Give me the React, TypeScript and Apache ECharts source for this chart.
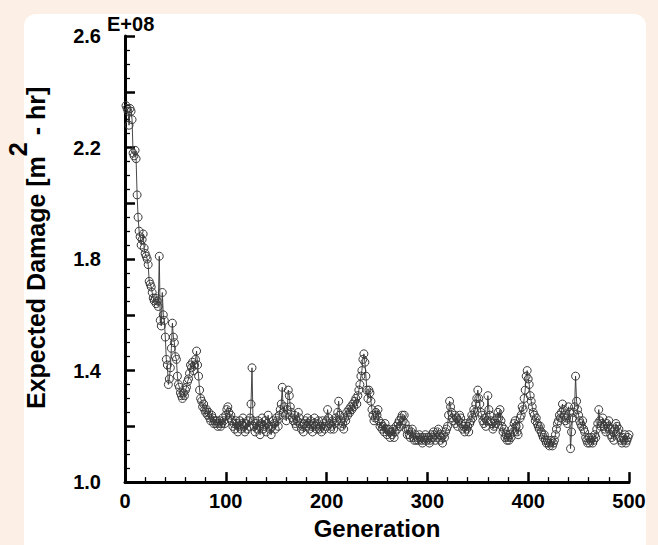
import React, { useEffect, useRef } from "react";
import * as echarts from "echarts";

// First generation plotted and step between samples
const GEN_START = 1;
const GEN_STEP = 1;

// Expected damage, in units of 1E+08 m^2-hr, one value per generation (1..500)
const damage = [
  2.35, 2.34, 2.33, 2.28, 2.34, 2.33, 2.30, 2.18, 2.17, 2.19,
  2.16, 2.03, 1.95, 1.90, 1.88, 1.85, 1.87, 1.89, 1.84, 1.82,
  1.81, 1.80, 1.78, 1.72, 1.71, 1.70, 1.68, 1.66, 1.65, 1.66,
  1.64, 1.65, 1.63, 1.81, 1.58, 1.56, 1.68, 1.60, 1.58, 1.52,
  1.44, 1.42, 1.35, 1.37, 1.41, 1.48, 1.57, 1.52, 1.50, 1.45,
  1.44, 1.38, 1.35, 1.34, 1.32, 1.31, 1.30, 1.32, 1.31, 1.33,
  1.34, 1.36, 1.37, 1.39, 1.42, 1.41, 1.43, 1.40, 1.42, 1.44,
  1.47, 1.42, 1.38, 1.33, 1.30, 1.29, 1.27, 1.28, 1.26, 1.25,
  1.26, 1.24, 1.25, 1.23, 1.22, 1.24, 1.23, 1.21, 1.22, 1.21,
  1.22, 1.20, 1.21, 1.22, 1.20, 1.21, 1.23, 1.22, 1.21, 1.24,
  1.26, 1.27, 1.25, 1.23, 1.24, 1.22, 1.20, 1.21, 1.19, 1.22,
  1.21, 1.18, 1.20, 1.22, 1.19, 1.21, 1.23, 1.20, 1.18, 1.21,
  1.19, 1.22, 1.20, 1.23, 1.28, 1.41, 1.22, 1.20, 1.18, 1.21,
  1.19, 1.22, 1.20, 1.17, 1.21, 1.23, 1.19, 1.20, 1.22, 1.18,
  1.21, 1.24, 1.20, 1.19, 1.17, 1.20, 1.22, 1.21, 1.19, 1.23,
  1.22, 1.20, 1.24, 1.26, 1.28, 1.34, 1.25, 1.27, 1.24, 1.22,
  1.26, 1.33, 1.31, 1.27, 1.25, 1.23, 1.22, 1.24, 1.21, 1.20,
  1.22, 1.25, 1.23, 1.21, 1.19, 1.20, 1.18, 1.21, 1.22, 1.20,
  1.23, 1.21, 1.19, 1.22, 1.20, 1.18, 1.21, 1.23, 1.20, 1.19,
  1.21, 1.22, 1.19, 1.20, 1.18, 1.22, 1.21, 1.19, 1.20, 1.22,
  1.26, 1.23, 1.21, 1.19, 1.20, 1.22, 1.19, 1.21, 1.23, 1.22,
  1.25, 1.29, 1.24, 1.22, 1.20, 1.21, 1.19, 1.23, 1.22, 1.25,
  1.24, 1.26, 1.25, 1.27, 1.26, 1.28, 1.27, 1.29, 1.30, 1.28,
  1.31, 1.33, 1.35, 1.38, 1.40, 1.44, 1.46, 1.43, 1.38, 1.33,
  1.30, 1.33, 1.32, 1.29, 1.26, 1.24, 1.22, 1.23, 1.25, 1.24,
  1.26, 1.22, 1.20, 1.21, 1.19, 1.20, 1.18, 1.21, 1.19, 1.17,
  1.19, 1.18, 1.16, 1.18, 1.17, 1.19, 1.16, 1.18, 1.20, 1.19,
  1.21, 1.22, 1.20, 1.23, 1.24, 1.22, 1.24, 1.21, 1.19, 1.17,
  1.19, 1.17, 1.16, 1.18, 1.19, 1.16, 1.15, 1.17, 1.15, 1.16,
  1.15, 1.17, 1.16, 1.15, 1.14, 1.16, 1.15, 1.17, 1.16, 1.15,
  1.16, 1.14, 1.15, 1.17, 1.16, 1.18, 1.17, 1.15, 1.16, 1.18,
  1.19, 1.17, 1.15, 1.16, 1.14, 1.17, 1.16, 1.18, 1.19, 1.20,
  1.24, 1.29, 1.27, 1.25, 1.23, 1.22, 1.24, 1.21, 1.23, 1.20,
  1.22, 1.24, 1.23, 1.21, 1.19, 1.20, 1.18, 1.21, 1.19, 1.20,
  1.18, 1.21, 1.22, 1.24, 1.23, 1.26, 1.25, 1.28, 1.30, 1.33,
  1.30, 1.28, 1.25, 1.24, 1.22, 1.21, 1.23, 1.20, 1.22, 1.31,
  1.26, 1.24, 1.22, 1.21, 1.19, 1.20, 1.22, 1.21, 1.23, 1.25,
  1.23, 1.26, 1.22, 1.20, 1.18, 1.19, 1.16, 1.17, 1.15, 1.16,
  1.15, 1.17, 1.16, 1.19, 1.18, 1.21, 1.22, 1.20, 1.18, 1.17,
  1.20, 1.23, 1.24, 1.27, 1.26, 1.30, 1.33, 1.38, 1.40, 1.37,
  1.35, 1.31, 1.29, 1.27, 1.25, 1.24, 1.22, 1.23, 1.21, 1.20,
  1.19, 1.20, 1.18, 1.17, 1.16, 1.17, 1.15, 1.14, 1.15, 1.14,
  1.13, 1.14, 1.15, 1.13, 1.14, 1.15, 1.17, 1.19, 1.21, 1.22,
  1.24, 1.23, 1.25, 1.28, 1.26, 1.24, 1.22, 1.23, 1.21, 1.27,
  1.25, 1.12, 1.18, 1.23, 1.25, 1.27, 1.38, 1.29, 1.26, 1.24,
  1.22, 1.21, 1.20, 1.22, 1.19, 1.18, 1.16, 1.15, 1.14, 1.16,
  1.14, 1.15, 1.16, 1.14, 1.15, 1.17, 1.16, 1.19, 1.21, 1.26,
  1.22, 1.20, 1.21, 1.23, 1.20, 1.19, 1.18, 1.21, 1.20, 1.22,
  1.19, 1.17, 1.16, 1.18, 1.15, 1.19, 1.21, 1.20, 1.18, 1.19,
  1.16, 1.15, 1.14, 1.16, 1.15, 1.17, 1.14, 1.15, 1.16, 1.17,
];

const xLabels = [0, 100, 200, 300, 400, 500];
const yLabels = [1.0, 1.4, 1.8, 2.2, 2.6];
const yExponentLabel = "E+08";
const xTitle = "Generation";

const FONT = "'Liberation Sans', Arial, Helvetica, sans-serif";

export default function App() {
  const ref = useRef<HTMLDivElement>(null);

  useEffect(() => {
    document.body.style.margin = "0";
    const chart = echarts.init(ref.current!, null, { renderer: "svg" });
    const data = damage.map((v, i) => [GEN_START + i * GEN_STEP, v]);

    const bold = (size: number) => ({
      fontFamily: FONT,
      fontWeight: "bold",
      fontSize: size,
      fill: "#000",
    });

    chart.setOption({
      animation: false,
      backgroundColor: "#fcefe5",
      title: {
        text: yExponentLabel,
        left: 107,
        top: 13,
        padding: 0,
        textStyle: {
          fontFamily: FONT,
          fontWeight: "bold",
          fontSize: 20,
          lineHeight: 22,
          color: "#000",
        },
      },
      grid: { left: 125, right: 29, top: 36, bottom: 53, containLabel: false },
      xAxis: {
        type: "value",
        min: 0,
        max: 500,
        interval: 100,
        name: xTitle,
        nameLocation: "middle",
        nameGap: 26,
        nameTextStyle: { fontFamily: FONT, fontWeight: "bold", fontSize: 24, color: "#000" },
        axisLine: { show: true, onZero: false, lineStyle: { color: "#000", width: 3 } },
        axisTick: { show: true, inside: true, length: 10, lineStyle: { color: "#000", width: 2.5 } },
        minorTick: { show: true, splitNumber: 5, length: 5, lineStyle: { color: "#000", width: 1.3 } },
        splitLine: { show: false },
        minorSplitLine: { show: false },
        axisLabel: {
          margin: 9,
          fontFamily: FONT,
          fontWeight: "bold",
          fontSize: 20,
          color: "#000",
          formatter: (v: number) => (xLabels.includes(Math.round(v)) ? String(Math.round(v)) : ""),
        },
      },
      yAxis: {
        type: "value",
        min: 1.0,
        max: 2.6,
        interval: 0.2,
        axisLine: { show: true, onZero: false, lineStyle: { color: "#000", width: 3 } },
        axisTick: { show: true, inside: true, length: 10, lineStyle: { color: "#000", width: 2.5 } },
        minorTick: { show: true, splitNumber: 4, length: 5, lineStyle: { color: "#000", width: 1.3 } },
        splitLine: { show: false },
        minorSplitLine: { show: false },
        axisLabel: {
          margin: 24,
          fontFamily: FONT,
          fontWeight: "bold",
          fontSize: 20,
          color: "#000",
          formatter: (v: number) =>
            yLabels.some((l) => Math.abs(l - v) < 1e-6) ? v.toFixed(1) : "",
        },
      },
      graphic: [
        {
          type: "rect",
          z: -10,
          silent: true,
          shape: { x: 24, y: 14, width: 622, height: 580, r: 12 },
          style: { fill: "#ffffff" },
        },
        {
          type: "text",
          x: 27,
          y: 248,
          rotation: Math.PI / 2,
          style: {
            text: "{h| }{t|Expected Damage [m}{s|2}{t| - hr]}",
            align: "center",
            verticalAlign: "middle",
            fill: "#000",
            rich: {
              h: { fontSize: 1, lineHeight: 43 },
              t: { ...bold(25), lineHeight: 27, verticalAlign: "bottom" },
              s: { ...bold(25), lineHeight: 27, verticalAlign: "top" },
            },
          },
        },
      ],
      series: [
        {
          type: "line",
          data,
          showAllSymbol: true,
          symbol: "circle",
          symbolSize: 8,
          lineStyle: { color: "#333", width: 0.9 },
          itemStyle: { color: "rgba(255,255,255,0)", borderColor: "#3a3a3a", borderWidth: 1 },
          emphasis: { disabled: true },
          z: 3,
        },
      ],
    });

    return () => chart.dispose();
  }, []);

  return <div ref={ref} style={{ width: 658, height: 545 }} />;
}
